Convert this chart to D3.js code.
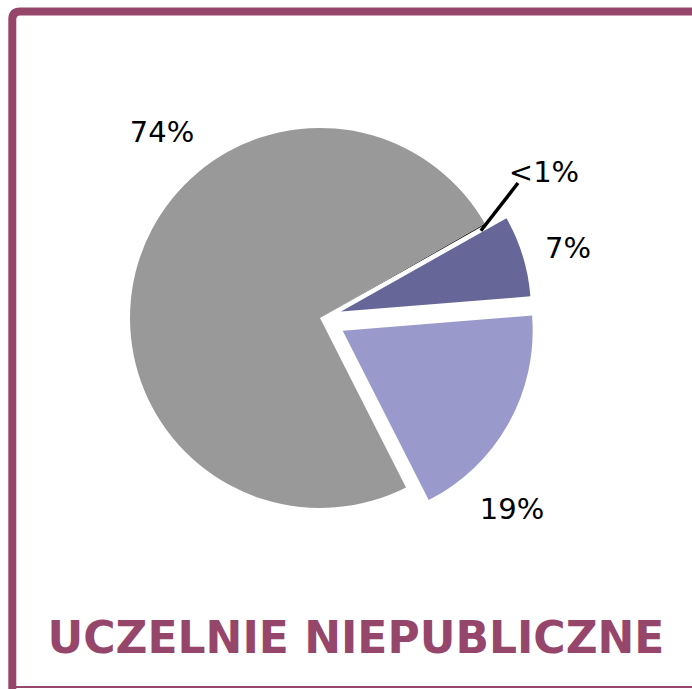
<!DOCTYPE html>
<html>
<head>
<meta charset="utf-8">
<script src="https://cdn.jsdelivr.net/npm/d3@7"></script>
<style>
  body { margin: 0; background: #fff; }
  svg { display: block; }
</style>
</head>
<body>
<div id="chart"></div>
<script>
  // Data (share of students)
  const categories = ["<1%", "7%", "19%", "74%"];
  const shares = [0.1, 6.9, 18.8, 74.2];
  const labels = ["<1%", "7%", "19%", "74%"];
  const title = "UCZELNIE NIEPUBLICZNE";

  // Styles
  const colors = ["#222222", "#666699", "#9999cc", "#999999"];
  const frameColor = "#96466b";

  const width = 692, height = 689;
  const cx = 320, cy = 318, radius = 190;
  const explode = [0, 22, 26, 0];
  // label anchors relative to pie center
  const labelPos = [[224, -136], [248, -60], [192, 201], [-158, -176]];

  const svg = d3.select("#chart")
    .append("svg")
    .attr("width", width)
    .attr("height", height);

  // Frame: thick left/top edges with rounded corner, thin bottom line
  svg.append("path")
    .attr("d", "M12.3,700 L12.3,19.5 Q12.3,11.5 20.3,11.5 L700,11.5")
    .attr("fill", "none")
    .attr("stroke", frameColor)
    .attr("stroke-width", 8);
  svg.append("line")
    .attr("x1", 12).attr("x2", 700)
    .attr("y1", 687).attr("y2", 687)
    .attr("stroke", frameColor)
    .attr("stroke-width", 2);

  const pie = d3.pie()
    .sort(null)
    .value((d) => d)
    .startAngle(60.2 * Math.PI / 180)
    .endAngle((60.2 + 360) * Math.PI / 180);

  const arc = d3.arc().innerRadius(0).outerRadius(radius);
  const arcs = pie(shares);

  const g = svg.append("g")
    .attr("transform", `translate(${cx},${cy})`);

  g.selectAll(".slice")
    .data(arcs)
    .enter()
    .append("path")
    .attr("class", "slice")
    .attr("d", arc)
    .attr("fill", (d, i) => colors[i])
    .attr("transform", function (d, i) {
      const a = (d.startAngle + d.endAngle) / 2;
      const dx = Math.sin(a) * explode[i];
      const dy = -Math.cos(a) * explode[i];
      return `translate(${dx},${dy})`;
    });

  // Leader line for the tiny slice
  const tiny = arcs[0];
  const ta = (tiny.startAngle + tiny.endAngle) / 2 + 0.02;
  g.append("line")
    .attr("x1", Math.sin(ta) * (radius - 7))
    .attr("y1", -Math.cos(ta) * (radius - 7))
    .attr("x2", 198)
    .attr("y2", -135)
    .attr("stroke", "#000")
    .attr("stroke-width", 3.5);

  // Percentage labels
  g.selectAll(".lbl")
    .data(labels)
    .enter()
    .append("text")
    .attr("class", "lbl")
    .attr("x", (d, i) => labelPos[i][0])
    .attr("y", (d, i) => labelPos[i][1])
    .attr("text-anchor", "middle")
    .attr("font-family", "DejaVu Sans, Verdana, sans-serif")
    .attr("font-size", 29)
    .attr("fill", "#000")
    .text((d) => d);

  // Title
  svg.append("text")
    .attr("x", 356)
    .attr("y", 653)
    .attr("text-anchor", "middle")
    .attr("font-family", "DejaVu Sans, Verdana, sans-serif")
    .attr("font-weight", "bold")
    .attr("font-size", 44)
    .attr("fill", frameColor)
    .text(title);
</script>
</body>
</html>
